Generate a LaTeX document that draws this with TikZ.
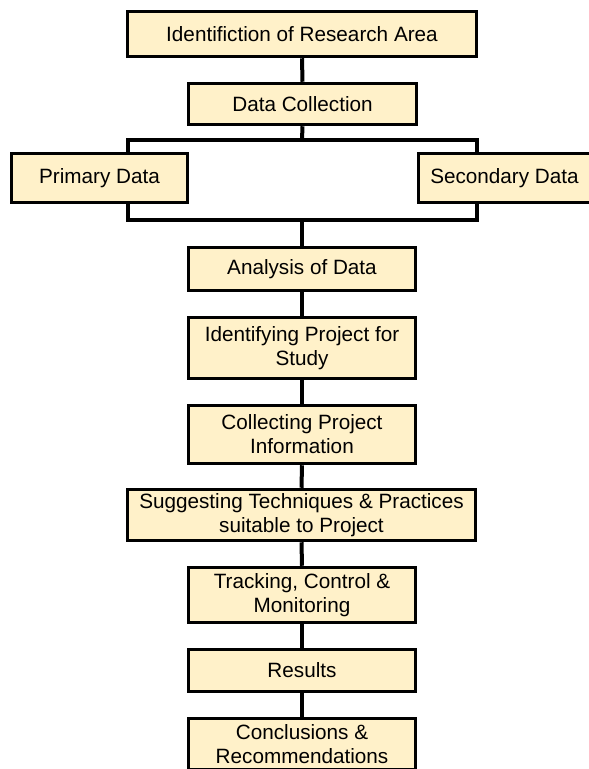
\documentclass[tikz,border=0pt]{standalone}
\usepackage{fontspec}
\setmainfont{Liberation Sans}
\definecolor{boxfill}{HTML}{FFF1C9}
\begin{document}
\begin{tikzpicture}[x=1pt,y=-1pt,
  box/.style={draw=black, line width=3.5pt, fill=boxfill, inner sep=0pt, align=center,
    font=\fontsize{20.7}{24}\selectfont},
  link/.style={line width=4pt, line join=miter}]
\clip (0,0) rectangle (589,769);
\useasboundingbox (0,0) rectangle (589,769);
\node[box, minimum width=349, minimum height=45] (ident) at (302,34) {Identifiction of Research Area};
\node[box, minimum width=228, minimum height=41] (datacoll) at (302.5,104) {Data Collection};
\node[box, minimum width=176, minimum height=49] (primary) at (99.5,178) {Primary Data};
\node[box, minimum width=172, minimum height=49] (secondary) at (504.5,178) {Secondary Data};
\node[box, minimum width=227, minimum height=43] (analysis) at (302,269) {Analysis of Data};
\node[box, minimum width=227, minimum height=61] (identproj) at (302,348) {Identifying Project for\\Study};
\node[box, minimum width=227, minimum height=58] (collect) at (302,434.5) {Collecting Project\\Information};
\node[box, minimum width=348, minimum height=51] (suggest) at (301.5,515) {Suggesting Techniques \& Practices\\suitable to Project};
\node[box, minimum width=227, minimum height=55] (tracking) at (302,595) {Tracking, Control \&\\Monitoring};
\node[box, minimum width=227, minimum height=42] (results) at (302,670.5) {Results};
\node[box, minimum width=227, minimum height=51] (concl) at (302,744) {Conclusions \&\\Recommendations};
\coordinate (split) at (302,140);
\coordinate (splitL) at (128,140);
\coordinate (splitR) at (477,140);
\coordinate (merge) at (302,220);
\coordinate (mergeL) at (128,220);
\coordinate (mergeR) at (477,220);
\draw[link] (ident.south) -- (datacoll.north);
\draw[link] (datacoll.south) -- (split);
\draw[link] (splitL |- primary.north) -- (splitL) -- (splitR) -- (splitR |- secondary.north);
\draw[link] (mergeL |- primary.south) -- (mergeL) -- (mergeR) -- (mergeR |- secondary.south);
\draw[link] (merge) -- (analysis.north);
\draw[link] (analysis.south) -- (identproj.north);
\draw[link] (identproj.south) -- (collect.north);
\draw[link] (collect.south) -- (suggest.north);
\draw[link] (suggest.south) -- (tracking.north);
\draw[link] (tracking.south) -- (results.north);
\draw[link] (results.south) -- (concl.north);
\end{tikzpicture}
\end{document}
